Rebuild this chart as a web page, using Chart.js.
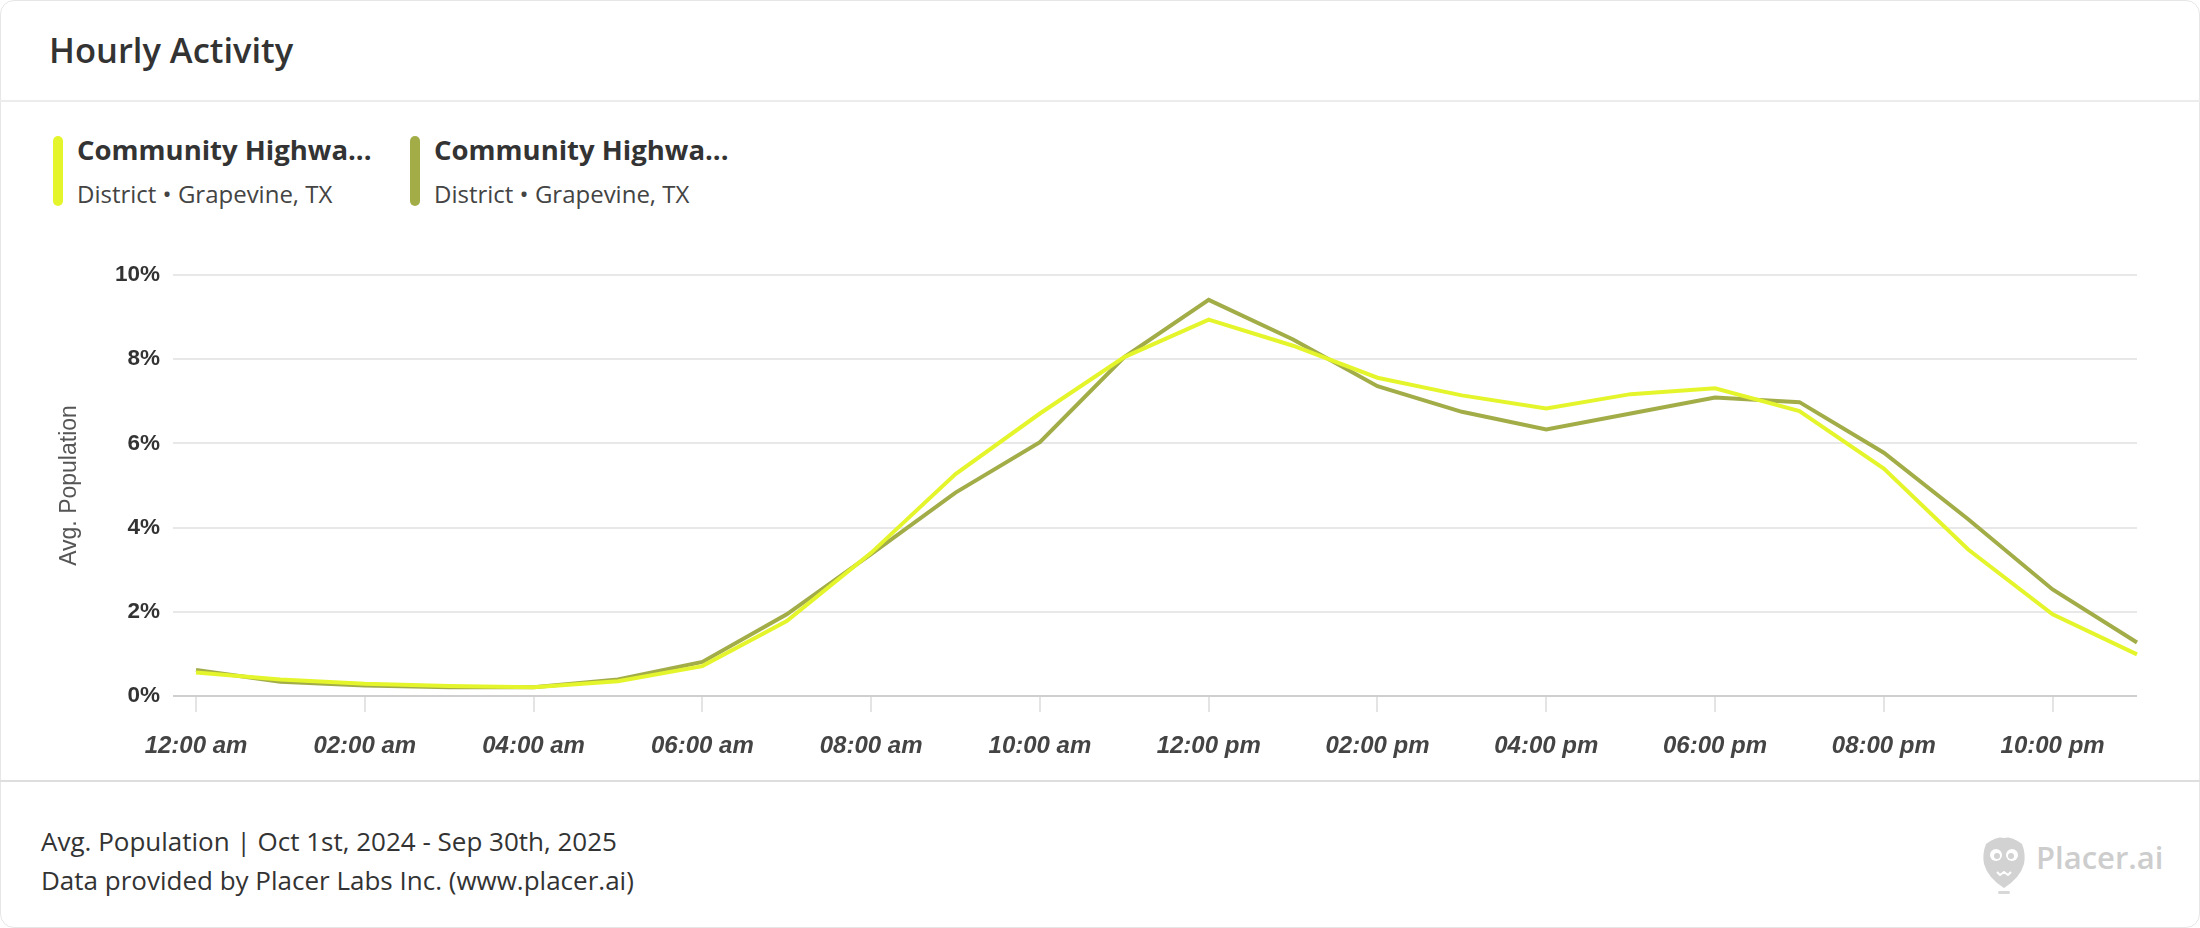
<!DOCTYPE html>
<html><head><meta charset="utf-8">
<script src="https://cdn.jsdelivr.net/npm/chart.js@4.4.1/dist/chart.umd.min.js"></script>
<style>
html,body{margin:0;padding:0;background:#fff;}
body{width:2200px;height:928px;position:relative;overflow:hidden;font-family:"Open Sans",sans-serif;}
.card{position:absolute;left:0;top:0;width:2198px;height:926px;border:1px solid #e6e6e6;border-radius:14px;box-sizing:content-box;}
.title{position:absolute;left:49px;top:26px;font-size:34.5px;font-weight:600;color:#333;line-height:48px;white-space:nowrap;}
.hdiv{position:absolute;left:0;top:100px;width:2200px;height:2px;background:#ececec;}
.bar{position:absolute;top:136px;width:10px;height:70px;border-radius:5px;}
.lt{position:absolute;top:131px;font-size:27.5px;font-weight:700;color:#333;line-height:38px;white-space:nowrap;}
.ls{position:absolute;top:178px;font-size:24px;font-weight:400;color:#444;line-height:32px;white-space:nowrap;}
.fdiv{position:absolute;left:0;top:780px;width:2200px;height:2px;background:#dedede;}
.ft{position:absolute;left:41px;font-size:26px;color:#333;line-height:36px;white-space:nowrap;}
#wrap{position:absolute;left:0;top:240px;width:2200px;height:540px;}
.logo{position:absolute;left:1982px;top:830px;}
.logot{position:absolute;left:2036px;top:836px;font-size:31px;font-weight:600;color:#cdcdcd;line-height:42px;white-space:nowrap;}
</style>
</head>
<body>
<div class="card"></div>
<div class="title">Hourly Activity</div>
<div class="hdiv"></div>
<div id="legend"></div>
<div id="wrap"><canvas id="c"></canvas></div>
<div class="fdiv"></div>
<div class="ft" style="top:823px">Avg. Population | Oct 1st, 2024 - Sep 30th, 2025</div>
<div class="ft" style="top:862px">Data provided by Placer Labs Inc. (www.placer.ai)</div>
<svg class="logo" width="44" height="64" viewBox="0 0 44 64">
  <path d="M4 14 Q22 0 40 14 Q44 24 42 34 Q38 48 22 58 Q6 48 2 34 Q0 24 4 14 Z" fill="#d2d2d2"/>
  <path d="M16 6 Q22 2 28 6 Q22 10 16 6 Z" fill="#fff"/>
  <circle cx="14" cy="25" r="6" fill="#fff"/>
  <circle cx="30" cy="25" r="6" fill="#fff"/>
  <circle cx="15" cy="26" r="3" fill="#d2d2d2"/>
  <circle cx="29" cy="26" r="3" fill="#d2d2d2"/>
  <path d="M15 42 L18 45 L22 42 L26 45 L29 42" stroke="#fff" stroke-width="2" fill="none"/>
  <rect x="16" y="61" width="12" height="3" rx="1.5" fill="#d8d8d8"/>
</svg>
<div class="logot">Placer.ai</div>
<script>
// ---- data ----
const hourLabels = ['12:00 am','01:00 am','02:00 am','03:00 am','04:00 am','05:00 am','06:00 am','07:00 am','08:00 am','09:00 am','10:00 am','11:00 am',
                    '12:00 pm','01:00 pm','02:00 pm','03:00 pm','04:00 pm','05:00 pm','06:00 pm','07:00 pm','08:00 pm','09:00 pm','10:00 pm','11:00 pm'];
const seriesNames = ['Community Highwa...', 'Community Highwa...'];
const seriesSubtitles = ['District \u2022 Grapevine, TX', 'District \u2022 Grapevine, TX'];
const seriesColors = ['#e5f52c', '#a2ad48'];
const seriesA = [0.56,0.39,0.29,0.24,0.21,0.35,0.71,1.78,3.40,5.27,6.71,8.05,8.94,8.32,7.56,7.14,6.83,7.17,7.31,6.77,5.40,3.48,1.94,0.99];
const seriesB = [0.62,0.34,0.25,0.21,0.21,0.39,0.81,1.94,3.37,4.83,6.03,8.05,9.41,8.47,7.36,6.75,6.33,6.71,7.09,6.98,5.78,4.20,2.53,1.27];
const yTickValues = [0,2,4,6,8,10];
const yAxisTitle = 'Avg. Population';

// ---- legend (HTML) ----
const legend = document.getElementById('legend');
const legendX = [53, 410];
seriesNames.forEach((n, i) => {
  const b = document.createElement('div'); b.className = 'bar'; b.style.left = legendX[i] + 'px'; b.style.background = seriesColors[i]; legend.appendChild(b);
  const t = document.createElement('div'); t.className = 'lt'; t.style.left = (legendX[i] + 24) + 'px'; t.textContent = n; legend.appendChild(t);
  const s = document.createElement('div'); s.className = 'ls'; s.style.left = (legendX[i] + 24) + 'px'; s.textContent = seriesSubtitles[i]; legend.appendChild(s);
});

Chart.defaults.font.family = '"Liberation Sans", Arial, sans-serif';
new Chart(document.getElementById('c'), {
  type: 'line',
  data: {
    labels: hourLabels,
    datasets: [
      { label: seriesNames[0], data: seriesA, borderColor: seriesColors[0], borderWidth: 4, pointRadius: 0, tension: 0, fill: false },
      { label: seriesNames[1], data: seriesB, borderColor: seriesColors[1], borderWidth: 4, pointRadius: 0, tension: 0, fill: false }
    ]
  },
  options: {
    responsive: true, maintainAspectRatio: false, animation: false,
    layout: { padding: { top: 35, right: 63, bottom: 0, left: 0 } },
    plugins: { legend: { display: false }, tooltip: { enabled: false } },
    scales: {
      x: {
        offset: false,
        border: { display: false },
        grid: { drawOnChartArea: false, drawTicks: true, tickLength: 16, lineWidth: 2,
                color: ctx => (ctx.index % 2 === 0 ? '#e4e4e4' : 'rgba(0,0,0,0)') },
        ticks: { autoSkip: false, maxRotation: 0, padding: 20, color: '#444',
                 font: { size: 24, weight: 'bold', style: 'italic' },
                 callback: (v, i) => (i % 2 === 0 ? hourLabels[i] : '') },
        afterFit: s => { s.height = 84; }
      },
      y: {
        min: 0, max: 10,
        border: { display: false },
        afterBuildTicks: s => { s.ticks = yTickValues.map(v => ({ value: v })); },
        grid: { drawTicks: true, tickLength: 23, lineWidth: 2,
                color: ctx => (ctx.tick && ctx.tick.value === 0 ? '#cfcfcf' : '#e8e8e8') },
        ticks: { padding: 13, color: '#333', font: { size: 22.5, weight: 'bold' }, callback: v => v + '%' },
        title: { display: true, text: yAxisTitle, color: '#555', font: { size: 23 }, padding: { top: 56, bottom: 0 } },
        afterFit: s => { s.width = 196; }
      }
    }
  }
});
</script>
</body></html>
